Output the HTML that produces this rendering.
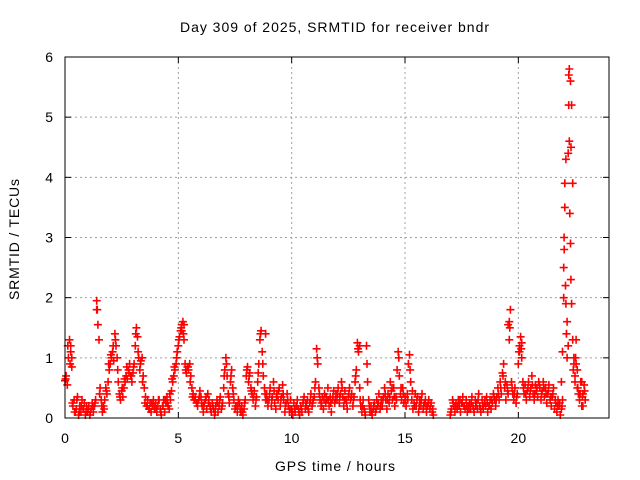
<!DOCTYPE html>
<html><head><meta charset="utf-8"><style>
body{margin:0;background:#fff}
svg{display:block;font-family:"Liberation Sans",sans-serif}
</style></head><body>
<svg id="chart" width="640" height="480" viewBox="0 0 640 480" xmlns="http://www.w3.org/2000/svg">
<rect width="640" height="480" fill="#fff"/>
<text x="180" y="32" font-size="14" textLength="309" lengthAdjust="spacing">Day 309 of 2025, SRMTID for receiver bndr</text>
<text x="275" y="471" font-size="14" textLength="120" lengthAdjust="spacing">GPS time / hours</text>
<text transform="translate(19,300) rotate(-90)" font-size="14" textLength="121" lengthAdjust="spacing">SRMTID / TECUs</text>
<g id="grid"></g><g id="ticks"></g><g id="marks"></g>
<rect x="65" y="57" width="544" height="361" fill="none" stroke="#000" stroke-width="1"/>
</svg>
<script>
const xTicks=[0,5,10,15,20];
const yTicks=[0,1,2,3,4,5,6];
const step=0.05;
const values=[
0.62,0.7,0.55,1.0,1.3,1.1,0.85,0.2,0.3,0.1,0.15,0.35,0.05,0.2,0.1,0.3,0.15,0.25,0.05,0.2,
0.1,0.2,0.05,0.15,0.25,0.1,0.2,0.3,1.95,1.55,1.3,0.5,0.3,0.1,0.2,0.3,0.5,0.4,0.6,0.8,
0.9,1.0,1.1,0.95,1.4,1.2,1.0,0.6,0.4,0.3,0.45,0.35,0.5,0.6,0.7,0.65,0.8,0.9,0.7,0.6,
0.75,0.9,1.2,1.5,1.35,1.0,0.8,0.95,1.0,0.7,0.5,0.35,0.2,0.3,0.15,0.25,0.1,0.2,0.3,0.15,
0.25,0.1,0.2,0.3,0.15,0.05,0.2,0.3,0.1,0.25,0.35,0.2,0.15,0.3,0.45,0.6,0.7,0.8,0.9,1.1,
1.2,1.35,1.45,1.55,1.6,1.3,0.9,0.75,0.85,0.8,0.9,0.7,0.5,0.4,0.3,0.35,0.25,0.2,0.3,0.45,
0.35,0.2,0.1,0.25,0.3,0.15,0.4,0.3,0.2,0.1,0.25,0.15,0.05,0.2,0.3,0.1,0.2,0.35,0.15,0.25,
0.5,0.8,1.0,0.7,0.4,0.25,0.6,0.8,0.5,0.3,0.15,0.2,0.1,0.3,0.25,0.1,0.2,0.05,0.15,0.3,
0.7,0.85,0.6,0.75,0.5,0.4,0.3,0.45,0.2,0.35,0.6,0.9,1.3,1.45,1.1,0.7,0.5,0.3,0.4,0.2,
0.3,0.5,0.2,0.35,0.6,0.25,0.15,0.4,0.3,0.5,0.2,0.35,0.55,0.3,0.1,0.25,0.4,0.2,0.1,0.3,
0.15,0.05,0.25,0.1,0.2,0.3,0.15,0.05,0.2,0.1,0.25,0.35,0.15,0.2,0.3,0.1,0.25,0.4,0.2,0.3,
0.35,0.6,1.15,0.9,0.5,0.3,0.2,0.35,0.15,0.4,0.25,0.3,0.5,0.2,0.35,0.1,0.3,0.45,0.25,0.4,
0.3,0.5,0.25,0.4,0.6,0.35,0.2,0.45,0.3,0.15,0.35,0.5,0.3,0.4,0.2,0.35,0.6,0.8,1.25,1.1,
0.5,0.2,0.1,0.3,0.15,0.05,1.2,0.6,0.3,0.1,0.2,0.05,0.15,0.25,0.1,0.3,0.2,0.4,0.15,0.3,
0.2,0.35,0.5,0.3,0.15,0.4,0.25,0.6,0.45,0.3,0.5,0.2,0.35,0.8,1.1,0.7,0.4,0.3,0.5,0.25,
0.35,0.2,0.4,0.9,1.05,0.6,0.3,0.15,0.25,0.4,0.2,0.35,0.1,0.3,0.2,0.4,0.15,0.25,0.3,0.1,
0.2,0.3,0.15,0.25,0.1,0.05,null,null,null,null,null,null,null,null,null,null,null,null,null,null,
0.05,0.15,0.3,0.2,0.1,0.25,0.15,0.3,0.2,0.1,0.25,0.35,0.2,0.15,0.3,0.1,0.2,0.25,0.15,0.35,
0.2,0.1,0.3,0.25,0.15,0.4,0.2,0.1,0.3,0.15,0.25,0.2,0.35,0.1,0.2,0.3,0.15,0.25,0.4,0.3,
0.2,0.35,0.5,0.3,0.6,0.4,0.75,0.9,0.5,0.3,0.55,0.4,1.6,1.8,0.6,0.4,0.3,0.5,0.25,0.4,
0.9,1.2,1.35,1.0,0.6,0.4,0.55,0.3,0.45,0.6,0.35,0.5,0.7,0.4,0.3,0.55,0.45,0.35,0.6,0.5,
0.3,0.45,0.6,0.35,0.5,0.25,0.4,0.55,0.3,0.2,0.35,0.5,0.15,0.25,0.1,0.3,0.2,0.05,0.15,0.3,
2.0,3.5,4.3,1.6,1.2,5.8,5.6,5.2,3.9,0.9,0.6,1.3,0.8,0.4,0.3,0.6,0.2,0.4,0.55,0.3];
const step2=0.1;
const offset2=0.025;
const values2=[
0.65,1.2,0.9,0.25,0.1,0.3,0.1,0.2,0.15,0.1,
0.15,0.1,0.2,0.25,1.8,0.4,0.2,0.15,0.45,0.9,
1.05,1.2,1.3,0.8,0.35,0.5,0.65,0.85,0.75,0.7,
0.85,1.4,1.1,0.9,0.6,0.25,0.2,0.15,0.25,0.2,
0.15,0.3,0.1,0.2,0.3,0.25,0.4,0.65,0.85,1.0,
1.3,1.5,1.4,0.8,0.85,0.6,0.35,0.3,0.25,0.35,
0.25,0.2,0.35,0.25,0.15,0.2,0.1,0.25,0.3,0.2,
0.7,0.9,0.35,0.7,0.4,0.2,0.2,0.15,0.1,0.25,
0.8,0.7,0.45,0.35,0.3,0.75,1.4,0.9,0.4,0.3,
0.4,0.3,0.45,0.35,0.45,0.3,0.4,0.2,0.3,0.15,
0.1,0.15,0.2,0.1,0.15,0.3,0.25,0.15,0.3,0.25,
0.5,1.0,0.4,0.25,0.3,0.35,0.3,0.25,0.35,0.3,
0.4,0.35,0.5,0.3,0.25,0.4,0.35,0.3,0.7,1.15,
0.3,0.2,0.1,0.9,0.2,0.1,0.2,0.15,0.25,0.2,
0.3,0.4,0.3,0.35,0.5,0.35,0.3,1.0,0.5,0.4,
0.3,0.3,0.8,0.45,0.2,0.3,0.2,0.3,0.2,0.2,
0.25,0.2,0.15,null,null,null,null,null,null,null,
0.1,0.25,0.2,0.2,0.3,0.25,0.2,0.2,0.15,0.25,
0.15,0.2,0.3,0.15,0.2,0.3,0.25,0.2,0.3,0.35,
0.3,0.4,0.5,0.7,0.6,0.45,1.5,0.5,0.4,0.35,
1.1,1.15,0.5,0.4,0.5,0.45,0.55,0.4,0.5,0.55,
0.4,0.5,0.4,0.45,0.35,0.4,0.3,0.2,0.25,0.2,
2.8,1.4,5.7,4.5,0.8,1.0,0.5,0.4,0.35,0.45];
const extraTimes=[21.9,21.95,22.0,22.02,22.05,22.08,22.1,22.12,22.15,22.2,22.22,22.25,22.27,22.3,22.32,22.35,22.4,22.45,22.5,22.55,22.6,22.7,22.8,22.85,1.45,1.4,8.85,13.0,12.95,19.55,19.6,20.05,20.15,0.3,0.25,5.15,5.25];
const extraValues=[0.6,1.1,2.5,3.0,3.9,2.2,1.9,1.4,1.0,4.4,5.2,4.6,3.4,2.9,2.3,1.9,1.3,1.0,0.7,0.9,0.5,0.4,0.6,0.2,1.55,1.8,1.4,1.2,1.1,1.55,1.3,1.1,1.25,1.0,1.2,1.45,1.55];

const L=65,R=609,T=57,B=418,XMAX=24,YMAX=6;
const xs=v=>L+v/XMAX*(R-L);
const ys=v=>B-v/YMAX*(B-T);
const NS="http://www.w3.org/2000/svg";
function mk(tag,attrs,parent){const e=document.createElementNS(NS,tag);for(const k in attrs)e.setAttribute(k,attrs[k]);parent.appendChild(e);return e;}
const grid=document.getElementById('grid'),ticks=document.getElementById('ticks'),marks=document.getElementById('marks');
xTicks.forEach(t=>{const x=xs(t);
 if(t>0){const g=mk('line',{x1:x,x2:x,y1:T,y2:B,stroke:'#a0a0a0','stroke-dasharray':'2,3'},grid);
 
 }
 mk('line',{x1:x,x2:x,y1:B,y2:B-6,stroke:'#000'},ticks);
 mk('line',{x1:x,x2:x,y1:T,y2:T+6,stroke:'#000'},ticks);
 const tx=mk('text',{x:x,y:443,'font-size':14,'text-anchor':'middle'},ticks);tx.textContent=t;
 
 
});
yTicks.forEach(t=>{const y=ys(t);
 if(t>0&&t<YMAX){const g=mk('line',{x1:L,x2:R,y1:y,y2:y,stroke:'#a0a0a0','stroke-dasharray':'2,3'},grid);
 
 }
 mk('line',{x1:L,x2:L+6,y1:y,y2:y,stroke:'#000'},ticks);
 mk('line',{x1:R,x2:R-6,y1:y,y2:y,stroke:'#000'},ticks);
 const tx=mk('text',{x:53,y:y+5,'font-size':14,'text-anchor':'end'},ticks);tx.textContent=t;
 
 
});
let d='';
function plus(t,v){if(v===null)return;const x=xs(t),y=ys(v);d+=`M${(x-4).toFixed(1)} ${y.toFixed(1)}h8M${x.toFixed(1)} ${(y-4).toFixed(1)}v8`;}
values.forEach((v,i)=>plus(i*step,v));
values2.forEach((v,i)=>plus(i*step2+offset2,v));
extraTimes.forEach((t,i)=>plus(t,extraValues[i]));
const p=mk('path',{d:d,stroke:'#ff0000','stroke-width':1.6,fill:'none'},marks);


</script>
</body></html>
